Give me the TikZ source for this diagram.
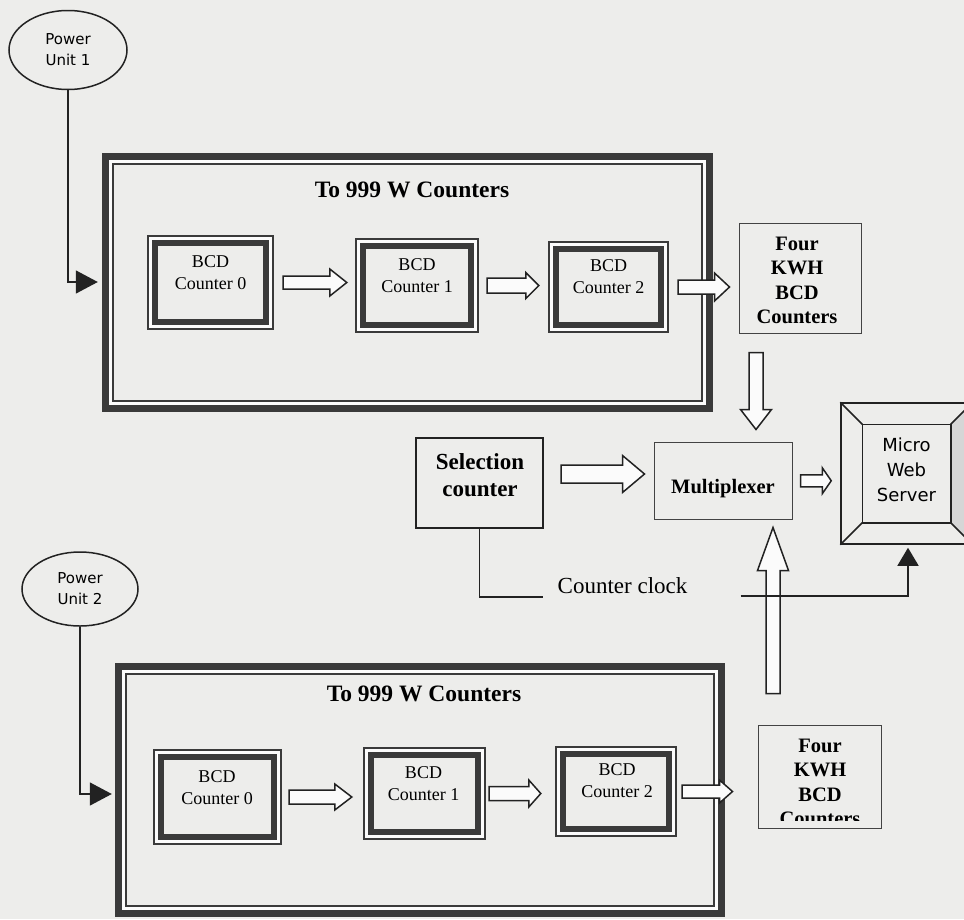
\documentclass[tikz,border=0pt]{standalone}
\usepackage{fontspec}
\setmainfont{Liberation Serif}
\newfontfamily\verdana{DejaVu Sans}
\usetikzlibrary{calc,arrows.meta,shapes.geometric}

\definecolor{paper}{HTML}{EDEDEB}
\definecolor{ink}{HTML}{222222}
\definecolor{band}{HTML}{3A3A3A}
\definecolor{gap}{HTML}{FBFBFB}
\definecolor{bevel}{HTML}{D6D6D6}

% hollow block arrow: start, tip, shaft half width, head half width, head length
\newcommand{\fatarrow}[5]{%
  \draw[fatline] let \p1=#1, \p2=#2, \p3=($(\p2)!#5!(\p1)$) in
    ($(\p1)!#3!90:(\p2)$) -- ($(\p3)!#3!90:(\p2)$) -- ($(\p3)!#4!90:(\p2)$) --
    (\p2) --
    ($(\p3)!#4!-90:(\p2)$) -- ($(\p3)!#3!-90:(\p2)$) -- ($(\p1)!#3!-90:(\p2)$) -- cycle;}

\begin{document}
\begin{tikzpicture}[x=1pt,y=-1pt,
  bigbox/.style={rectangle, inner sep=0pt, fill=band,
    path picture={
      \fill[gap] ($(path picture bounding box.north west)+(7,7)$) rectangle ($(path picture bounding box.south east)+(-7,-7)$);
      \filldraw[fill=paper, draw=band, line width=2pt] ($(path picture bounding box.north west)+(11,11)$) rectangle ($(path picture bounding box.south east)+(-11,-11)$);
    }},
  bcd/.style={rectangle, inner sep=0pt, fill=band,
    path picture={
      \fill[gap] ($(path picture bounding box.north west)+(2,2)$) rectangle ($(path picture bounding box.south east)+(-2,-2)$);
      \fill[band] ($(path picture bounding box.north west)+(5,5)$) rectangle ($(path picture bounding box.south east)+(-5,-5)$);
      \fill[paper] ($(path picture bounding box.north west)+(11,11)$) rectangle ($(path picture bounding box.south east)+(-11,-11)$);
    }},
  bcdtxt/.style={align=center, inner sep=0pt, font=\fontsize{18}{22}\selectfont},
  title/.style={inner sep=0pt, font=\bfseries\fontsize{23.5}{28}\selectfont},
  thinbox/.style={rectangle, draw=ink!85, line width=1pt, fill=paper, inner sep=0pt},
  boldtxt/.style={align=center, inner sep=0pt, font=\bfseries\fontsize{20.5}{24.5}\selectfont},
  power/.style={ellipse, draw=ink, line width=1.5pt, fill=paper, inner sep=0pt,
    align=center, font=\verdana\fontsize{15}{21}\selectfont},
  wire/.style={draw=ink, line width=1.5pt},
  fatline/.style={draw=ink, line width=1.5pt, fill=gap, line join=miter},
  bigtip/.style={-{Triangle[length=22pt,width=23pt]}}
]
\fill[paper] (0,0) rectangle (964,919);
\useasboundingbox (0,0) rectangle (964,919);

% ---------- upper counter chain ----------
\node[power, minimum width=118pt, minimum height=79pt] (pu1) at (68,50) {Power\\Unit 1};
\node[bigbox, minimum width=611pt, minimum height=259pt] (big1) at (407.5,282.5) {};
\node[title] (ttl1) at (412,190) {To 999 W Counters};
\node[bcd, minimum width=127pt, minimum height=95pt] (b0) at (210.5,282.5) {};
\node[bcdtxt] (t0) at ($(b0.center)+(0,-9.5)$) {BCD\\Counter 0};
\node[bcd, minimum width=124pt, minimum height=95pt] (b1) at (417,285.5) {};
\node[bcdtxt] (t1) at ($(b1.center)+(0,-9.5)$) {BCD\\Counter 1};
\node[bcd, minimum width=121pt, minimum height=92pt] (b2) at (608.5,287) {};
\node[bcdtxt] (t2) at ($(b2.center)+(0,-10)$) {BCD\\Counter 2};
\node[thinbox, minimum width=122pt, minimum height=110pt] (four1) at (800,278) {};
\node[boldtxt] (f1txt) at ($(four1.center)+(-3,2.5)$) {Four\\KWH\\BCD\\Counters};

\draw[wire, bigtip] (pu1.south) |- ($(big1.west)+(-4,-0.5)$);
\fatarrow{($(b0.east)+(9,0)$)}{($(b1.west |- b0.east)+(-8,0)$)}{6.5pt}{13.5pt}{17pt}
\fatarrow{($(b1.east)+(8,0)$)}{($(b2.west |- b1.east)+(-9,0)$)}{7.5pt}{13pt}{13pt}
\fatarrow{($(b2.east)+(9,0)$)}{($(four1.west |- b2.east)+(-9,0)$)}{7pt}{14pt}{15pt}

% ---------- multiplexer stage ----------
\node[rectangle, draw=ink, line width=2pt, fill=paper, minimum width=127pt, minimum height=90pt] (sel) at (479.5,483) {};
\node[align=center, inner sep=0pt, font=\bfseries\fontsize{23}{27}\selectfont] (seltxt) at ($(sel.center)+(0.5,-7.5)$) {Selection\\counter};
\node[thinbox, minimum width=138pt, minimum height=77.5pt] (mux) at (723,480.75) {};
\node[inner sep=0pt, font=\bfseries\fontsize{20.5}{24.5}\selectfont] (muxtxt) at ($(mux.center)+(0,8)$) {Multiplexer};

% micro web server with bevelled frame
\node[rectangle, draw=ink, line width=1.5pt, fill=paper, minimum width=131pt, minimum height=141pt] (srv) at (906.5,473.5) {};
\filldraw[fill=bevel, draw=ink, line width=1.5pt] ($(srv.north east)+(-22,22)$) -- (srv.north east) -- (srv.south east) -- ($(srv.south east)+(-22,-22)$) -- cycle;
\draw[ink, line width=1.5pt] ($(srv.north west)+(22,22)$) rectangle ($(srv.south east)+(-22,-22)$);
\draw[ink, line width=1.5pt] (srv.north west) -- +(22,22) (srv.south west) -- +(22,-22);
\node[align=center, inner sep=0pt, font=\verdana\fontsize{18}{25}\selectfont] (srvtxt) at ($(srv.center)+(0,-3.5)$) {Micro\\Web\\Server};

\coordinate (dn) at ($(four1.south)+(-44,19)$);
\fatarrow{(dn)}{($(dn |- mux.north)+(0,-12)$)}{7pt}{15.5pt}{20pt}
\fatarrow{($(sel.east)+(17,-9)$)}{($(mux.west)+(-9,-6.75)$)}{9pt}{18.5pt}{22pt}
\coordinate (mst) at ($(mux.east)+(8,0)$);
\fatarrow{(mst)}{($(mst -| srv.west)+(-9,0)$)}{6pt}{13pt}{9pt}

% ---------- lower counter chain ----------
\node[power, minimum width=116pt, minimum height=74pt] (pu2) at (80,589) {Power\\Unit 2};
\node[bigbox, minimum width=610pt, minimum height=254pt] (big2) at (420,790) {};
\node[title] (ttl2) at (424,694) {To 999 W Counters};
\node[bcd, minimum width=129pt, minimum height=96pt] (c0) at (217.5,797) {};
\node[bcdtxt] (u0) at ($(c0.center)+(-0.5,-9.5)$) {BCD\\Counter 0};
\node[bcd, minimum width=123pt, minimum height=93pt] (c1) at (424.5,793.5) {};
\node[bcdtxt] (u1) at ($(c1.center)+(-1,-9.5)$) {BCD\\Counter 1};
\node[bcd, minimum width=122pt, minimum height=91pt] (c2) at (616,791.5) {};
\node[bcdtxt] (u2) at ($(c2.center)+(1,-10.5)$) {BCD\\Counter 2};
\node[thinbox, minimum width=123pt, minimum height=103pt] (four2) at (819.5,776.5) {};
\begin{scope}
  \clip ($(four2.north west)+(1,1)$) rectangle ($(four2.south east)+(-1,-8)$);
  \node[boldtxt] (f2txt) at ($(four2.center)+(0.5,6)$) {Four\\KWH\\BCD\\Counters};
\end{scope}

\draw[wire, bigtip] (pu2.south) |- ($(big2.west)+(-3,4)$);
\fatarrow{($(c0.east)+(7,0)$)}{($(c1.west |- c0.east)+(-11,0)$)}{7pt}{13pt}{17pt}
\fatarrow{($(c1.east)+(3,0)$)}{($(c2.west |- c1.east)+(-14,0)$)}{7pt}{13.5pt}{12pt}
\fatarrow{($(c2.east)+(5,0)$)}{($(four2.west |- c2.east)+(-25,0)$)}{6.5pt}{11.5pt}{13pt}

\coordinate (up) at ($(four2.north)+(-46.5,-31)$);
\fatarrow{(up)}{($(up |- mux.south)+(0,7.5)$)}{7pt}{15.5pt}{43pt}

% ---------- counter clock ----------
\coordinate (ck1) at ($(sel.south)+(63,68)$);
\draw[wire] (sel.south) |- (ck1);
\node[anchor=west, inner sep=0pt, font=\fontsize{23}{27}\selectfont] (cktxt) at ($(ck1)+(15,-11)$) {Counter clock};
\coordinate (ck2) at ($(ck1)+(198,-1)$);
\draw[wire, -{Triangle[length=18pt,width=21pt]}] (ck2) -| ($(srv.south)+(1.5,3)$);
\end{tikzpicture}
\end{document}
